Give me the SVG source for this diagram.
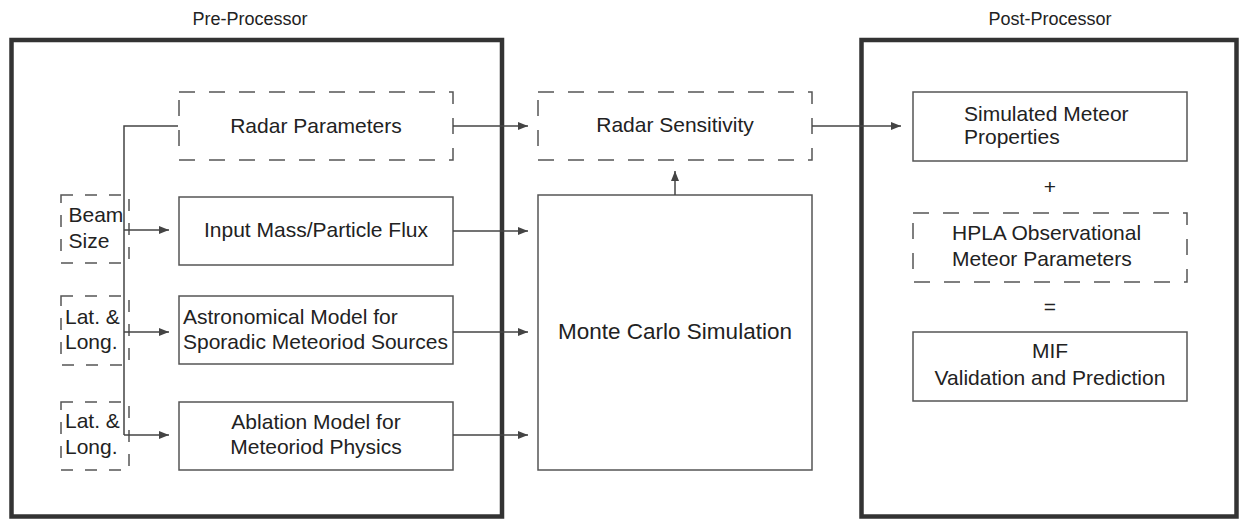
<svg xmlns="http://www.w3.org/2000/svg" width="1239" height="519" viewBox="0 0 1239 519">
<style>
text{font-family:"Liberation Sans",Arial,sans-serif;font-size:21px;fill:#222}
.t{font-size:18px}
.big{font-size:22.5px}
.m{text-anchor:middle}
.outer{fill:none;stroke:#333;stroke-width:4.5}
.box{fill:#fff;stroke:#555;stroke-width:1.5}
.dash{fill:#fff;stroke:#555;stroke-width:1.5;stroke-dasharray:16 14}
.sdash{fill:none;stroke:#555;stroke-width:1.5;stroke-dasharray:12 12}
.c{fill:none;stroke:#444;stroke-width:1.5}
</style>
<defs>
<marker id="ah" viewBox="0 0 10 8" refX="10" refY="4" markerWidth="10" markerHeight="8" markerUnits="userSpaceOnUse" orient="auto">
<path d="M0,0 L10,4 L0,8 z" fill="#444"/>
</marker>
</defs>
<g id="pre-processor">
<rect class="outer" x="11.5" y="40" width="490.5" height="476.5"/>
<text class="t m" x="250" y="25">Pre-Processor</text>
</g>
<g id="post-processor">
<rect class="outer" x="861.5" y="40" width="375" height="476.5"/>
<text class="t m" x="1050" y="25">Post-Processor</text>
</g>
<g id="radar-parameters">
<rect class="dash" x="179" y="92" width="274" height="68"/>
<text class="m" x="316" y="133">Radar Parameters</text>
</g>
<g id="beam-size">
<rect class="sdash" x="61" y="195" width="68" height="68"/>
<text x="68.5" y="222">Beam</text>
<text x="68.5" y="248">Size</text>
</g>
<g id="lat-long-1">
<rect class="sdash" x="61" y="296" width="68" height="69"/>
<text x="65" y="324">Lat. &amp;</text>
<text x="65" y="349">Long.</text>
</g>
<g id="lat-long-2">
<rect class="sdash" x="61" y="402" width="68" height="68"/>
<text x="65" y="428">Lat. &amp;</text>
<text x="65" y="454">Long.</text>
</g>
<g id="input-mass">
<rect class="box" x="179" y="197" width="274" height="68"/>
<text class="m" x="316" y="237">Input Mass/Particle Flux</text>
</g>
<g id="astronomical-model">
<rect class="box" x="179" y="296" width="274" height="68"/>
<text x="183" y="324">Astronomical Model for</text>
<text x="183" y="349">Sporadic Meteoriod Sources</text>
</g>
<g id="ablation-model">
<rect class="box" x="179" y="402" width="274" height="68"/>
<text class="m" x="316" y="429">Ablation Model for</text>
<text class="m" x="316" y="454">Meteoriod Physics</text>
</g>
<g id="radar-sensitivity">
<rect class="dash" x="538" y="92" width="274" height="68"/>
<text class="m" x="675" y="132">Radar Sensitivity</text>
</g>
<g id="monte-carlo">
<rect class="box" x="538" y="195" width="274" height="275"/>
<text class="m big" x="675" y="339">Monte Carlo Simulation</text>
</g>
<g id="simulated-meteor">
<rect class="box" x="913" y="92" width="274" height="69"/>
<text x="964" y="121">Simulated Meteor</text>
<text x="964" y="144">Properties</text>
</g>
<g id="plus"><text class="m" x="1050" y="194">+</text></g>
<g id="hpla">
<rect class="dash" x="913" y="213" width="274" height="69"/>
<text x="952" y="240">HPLA Observational</text>
<text x="952" y="266">Meteor Parameters</text>
</g>
<g id="equals"><text class="m" x="1050" y="314">=</text></g>
<g id="mif">
<rect class="box" x="913" y="332" width="274" height="69"/>
<text class="m" x="1050" y="358">MIF</text>
<text class="m" x="1050" y="385">Validation and Prediction</text>
</g>
<g id="connectors">
<polyline class="c" points="178,126 124,126 124,435"/>
<line class="c" x1="124" y1="230" x2="169" y2="230" marker-end="url(#ah)"/>
<line class="c" x1="124" y1="332" x2="169" y2="332" marker-end="url(#ah)"/>
<line class="c" x1="124" y1="435" x2="169" y2="435" marker-end="url(#ah)"/>
<line class="c" x1="453" y1="126" x2="528" y2="126" marker-end="url(#ah)"/>
<line class="c" x1="453" y1="231" x2="528" y2="231" marker-end="url(#ah)"/>
<line class="c" x1="453" y1="332" x2="528" y2="332" marker-end="url(#ah)"/>
<line class="c" x1="453" y1="435" x2="528" y2="435" marker-end="url(#ah)"/>
<line class="c" x1="675" y1="195" x2="675" y2="171" marker-end="url(#ah)"/>
<line class="c" x1="812" y1="126" x2="901" y2="126" marker-end="url(#ah)"/>
</g>
</svg>
